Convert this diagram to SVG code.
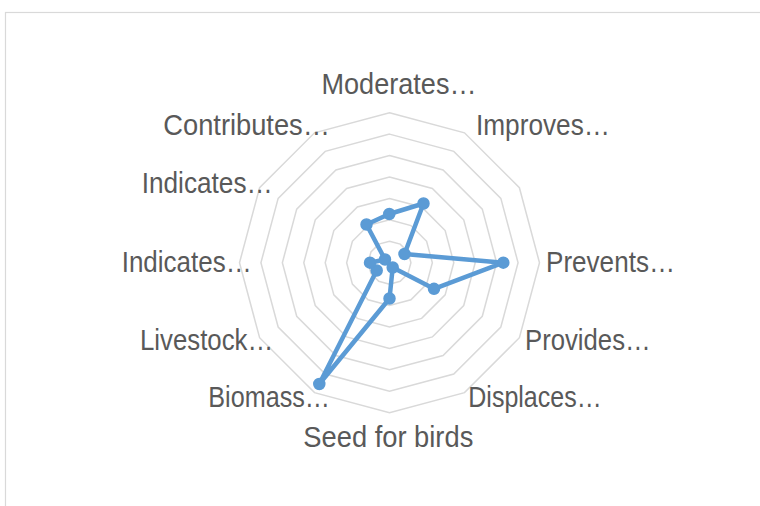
<svg xmlns="http://www.w3.org/2000/svg" width="760" height="506" viewBox="0 0 760 506">
<style>
.grid{fill:none;stroke:#D9D9D9;stroke-width:1.5}
.lbl{font-family:"Liberation Sans",Arial,sans-serif;font-size:30px;fill:#595959}
.series{fill:none;stroke:#5B9BD5;stroke-width:4.5;stroke-linejoin:round}
.mk{fill:#5B9BD5;stroke:#5B9BD5;stroke-width:1.5}
</style>
<rect x="0" y="0" width="760" height="506" fill="#FFFFFF"/>
<rect id="chart-area" x="5.5" y="12.5" width="800" height="600" fill="#FFFFFF" stroke="#D9D9D9" stroke-width="1.2"/>
<g id="grid" class="grid" transform="translate(389.5 262.7)">
<polygon points="0,-21.43 10.71,-18.56 18.56,-10.71 21.43,0 18.56,10.71 10.71,18.56 0,21.43 -10.71,18.56 -18.56,10.71 -21.43,0 -18.56,-10.71 -10.71,-18.56"/>
<polygon points="0,-42.86 21.43,-37.11 37.11,-21.43 42.86,0 37.11,21.43 21.43,37.11 0,42.86 -21.43,37.11 -37.11,21.43 -42.86,0 -37.11,-21.43 -21.43,-37.11"/>
<polygon points="0,-64.29 32.14,-55.67 55.67,-32.14 64.29,0 55.67,32.14 32.14,55.67 0,64.29 -32.14,55.67 -55.67,32.14 -64.29,0 -55.67,-32.14 -32.14,-55.67"/>
<polygon points="0,-85.71 42.86,-74.23 74.23,-42.86 85.71,0 74.23,42.86 42.86,74.23 0,85.71 -42.86,74.23 -74.23,42.86 -85.71,0 -74.23,-42.86 -42.86,-74.23"/>
<polygon points="0,-107.14 53.57,-92.79 92.79,-53.57 107.14,0 92.79,53.57 53.57,92.79 0,107.14 -53.57,92.79 -92.79,53.57 -107.14,0 -92.79,-53.57 -53.57,-92.79"/>
<polygon points="0,-128.57 64.29,-111.34 111.34,-64.29 128.57,0 111.34,64.29 64.29,111.34 0,128.57 -64.29,111.34 -111.34,64.29 -128.57,0 -111.34,-64.29 -64.29,-111.34"/>
<polygon points="0,-150 75,-129.9 129.9,-75 150,0 129.9,75 75,129.9 0,150 -75,129.9 -129.9,75 -150,0 -129.9,-75 -75,-129.9"/>
</g>
<g id="connectors">
<polygon class="series" points="389.3,214 423.5,203.5 404.5,254 503.3,262.7 434,288.8 392.7,267.5 389.5,298.5 319.3,384 376.7,270.5 370,262.7 385,259.5 366.5,224.5"/>
</g>
<g id="markers">
<circle id="p-moderates" class="mk" cx="389.3" cy="214" r="5.5"/>
<circle id="p-improves" class="mk" cx="423.5" cy="203.5" r="5.5"/>
<circle id="p-unlabelled" class="mk" cx="404.5" cy="254" r="5.5"/>
<circle id="p-prevents" class="mk" cx="503.3" cy="262.7" r="5.5"/>
<circle id="p-provides" class="mk" cx="434" cy="288.8" r="5.5"/>
<circle id="p-displaces" class="mk" cx="392.7" cy="267.5" r="5.5"/>
<circle id="p-seed" class="mk" cx="389.5" cy="298.5" r="5.5"/>
<circle id="p-biomass" class="mk" cx="319.3" cy="384" r="5.5"/>
<circle id="p-livestock" class="mk" cx="376.7" cy="270.5" r="5.5"/>
<circle id="p-indicates1" class="mk" cx="370" cy="262.7" r="5.5"/>
<circle id="p-indicates2" class="mk" cx="385" cy="259.5" r="5.5"/>
<circle id="p-contributes" class="mk" cx="366.5" cy="224.5" r="5.5"/>
</g>
<g id="labels" class="lbl">
<g id="l-moderates"><text x="321.5" y="93.5" textLength="155" lengthAdjust="spacingAndGlyphs">Moderates…</text></g>
<g id="l-improves"><text x="476" y="135" textLength="134" lengthAdjust="spacingAndGlyphs">Improves…</text></g>
<g id="l-contributes"><text x="163.3" y="135" textLength="166.7" lengthAdjust="spacingAndGlyphs">Contributes…</text></g>
<g id="l-indicates2"><text x="141.7" y="193.3" textLength="131" lengthAdjust="spacingAndGlyphs">Indicates…</text></g>
<g id="l-indicates1"><text x="121.7" y="271.7" textLength="130" lengthAdjust="spacingAndGlyphs">Indicates…</text></g>
<g id="l-prevents"><text x="546" y="271.7" textLength="129" lengthAdjust="spacingAndGlyphs">Prevents…</text></g>
<g id="l-livestock"><text x="140" y="350" textLength="133.3" lengthAdjust="spacingAndGlyphs">Livestock…</text></g>
<g id="l-provides"><text x="525" y="350" textLength="125.7" lengthAdjust="spacingAndGlyphs">Provides…</text></g>
<g id="l-biomass"><text x="208.3" y="407" textLength="121.7" lengthAdjust="spacingAndGlyphs">Biomass…</text></g>
<g id="l-displaces"><text x="468.3" y="406.7" textLength="133.4" lengthAdjust="spacingAndGlyphs">Displaces…</text></g>
<g id="l-seed"><text x="303.3" y="447.3" textLength="170" lengthAdjust="spacingAndGlyphs">Seed for birds</text></g>
</g>
</svg>
